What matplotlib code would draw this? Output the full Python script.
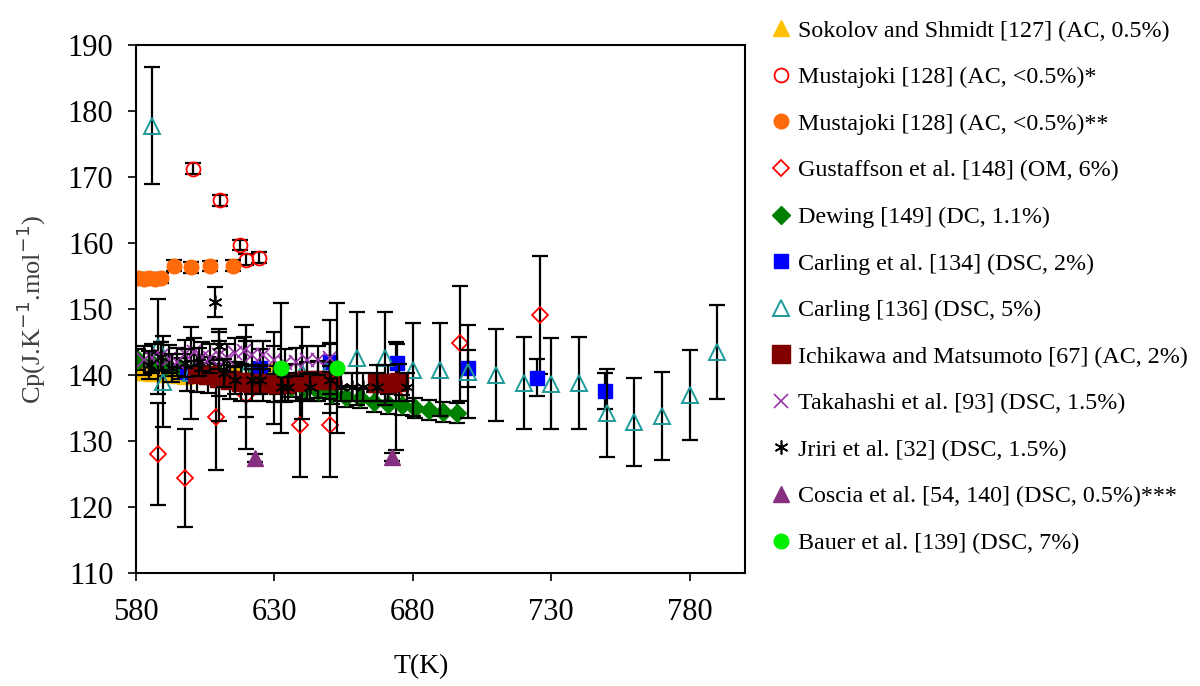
import numpy as np
import matplotlib.pyplot as plt
from matplotlib.lines import Line2D

plt.rcParams['font.family'] = ['Liberation Serif', 'DejaVu Serif']

# Sokolov and Shmidt [127]
sok_t = [580.5, 583, 585.5, 588, 590.5, 593, 595.5, 598, 616, 629]
sok_cp = [140.5, 140.4, 140.3, 140.3, 140.2, 140.1, 140.0, 139.9, 141.2, 140.8]

# Mustajoki [128] *
mus1_t = [600.7, 610.6, 617.5, 620, 624.5]
mus1_cp = [171.3, 166.5, 159.7, 157.5, 157.8]

# Mustajoki [128] **
mus2_t = [581, 583, 585, 587, 589, 594, 600, 607, 615]
mus2_cp = [154.7, 154.6, 154.7, 154.6, 154.7, 156.6, 156.3, 156.5, 156.6]

# Gustaffson et al. [148]
gus_t = [588, 598, 609, 620, 639.5, 650, 674, 697, 726]
gus_cp = [128.0, 124.4, 133.6, 137.0, 132.4, 132.4, 136.8, 144.8, 149.1]

# Dewing [149]
dew_t = [581, 586, 591, 596, 601, 606, 611, 616, 621, 626, 631, 636,
         641, 646, 651, 656, 661, 666, 671, 676, 681, 686, 691, 696]
dew_cp = [142.3, 141.8, 141.4, 141.0, 140.6, 140.2, 139.9, 139.6, 139.3, 139.0, 138.6, 138.2,
          137.9, 137.6, 137.1, 136.7, 136.5, 135.9, 135.6, 135.4, 135.0, 134.7, 134.4, 134.2]

# Carling et al. [134]
c134_t = [598.5, 625, 650, 674.5, 700, 725, 749.5]
c134_cp = [140.4, 141.1, 142.0, 141.8, 141.0, 139.6, 137.6]

# Carling [136]
c136_t = [586, 588, 590, 600, 610, 620, 630, 640, 650, 660, 670, 680,
          690, 700, 710, 720, 730, 740, 750, 760, 770, 780, 790]
c136_cp = [177.8, 144.3, 139.0, 140.3, 140.0, 140.6, 139.5, 140.3, 141.3, 142.5, 142.5, 140.8,
           140.8, 140.5, 140.0, 138.8, 138.7, 138.8, 134.2, 132.9, 133.8, 137.0, 143.5]

# Ichikawa and Matsumoto [67]
ich_t = [602, 606, 610, 614, 618, 622, 626, 630, 634, 638, 642, 646, 650, 667, 671, 675]
ich_cp = [140.2, 140.0, 139.6, 139.2, 138.9, 138.8, 138.8, 138.6, 138.7, 138.9, 139.2, 139.3,
          139.2, 138.8, 138.8, 138.9]

# Takahashi et al. [93]
tak_t = [583, 586, 589, 592, 595, 598, 601, 604, 607, 610, 613, 616, 619, 622,
         626, 630, 634, 638, 642, 646, 650]
tak_cp = [142.2, 142.6, 142.9, 142.4, 142.0, 143.2, 143.5, 142.8, 142.5, 143.0, 142.6, 143.4,
          143.6, 143.0, 143.0, 142.3, 141.8, 142.0, 142.3, 142.2, 142.6]

# Jriri et al. [32]
jri_t = [585, 589, 593, 598, 603, 608.5, 610, 612, 616, 622, 625, 633, 635, 643,
         650, 654, 658, 662, 667, 678]
jri_cp = [141.5, 142.8, 141.0, 141.8, 142.0, 151.1, 144.4, 140.3, 139.2, 139.2, 139.2, 138.2,
          138.2, 138.2, 139.2, 138.2, 138.2, 138.2, 138.2, 138.2]

# Coscia et al. [54, 140]
cos_t = [623, 672.7]
cos_cp = [127.4, 127.6]

# Bauer et al. [139]
bau_t = [632.3, 652.8]
bau_cp = [141.0, 141.0]

series = [
    ("Sokolov and Shmidt [127] (AC, 0.5%)", sok_t, sok_cp, 0.005,
     dict(marker='^', ms=11, mfc='#FFC000', mec='#FFC000')),
    ("Mustajoki [128] (AC, <0.5%)*", mus1_t, mus1_cp, 0.005,
     dict(marker='o', ms=10, mfc='none', mec='#FF0000', mew=1.3)),
    ("Mustajoki [128] (AC, <0.5%)**", mus2_t, mus2_cp, 0.005,
     dict(marker='o', ms=10.5, mfc='#FF6A0A', mec='#FF6A0A')),
    ("Gustaffson et al. [148] (OM, 6%)", gus_t, gus_cp, 0.06,
     dict(marker='D', ms=8.5, mfc='none', mec='#FF0000', mew=1.3)),
    ("Dewing [149] (DC, 1.1%)", dew_t, dew_cp, 0.011,
     dict(marker='D', ms=9, mfc='#008000', mec='#008000')),
    ("Carling et al. [134] (DSC, 2%)", c134_t, c134_cp, 0.02,
     dict(marker='s', ms=10.5, mfc='#0000FF', mec='#0000FF')),
    ("Carling [136] (DSC, 5%)", c136_t, c136_cp, 0.05,
     dict(marker='^', ms=11, mfc='none', mec='#1F9A9A', mew=1.4)),
    ("Ichikawa and Matsumoto [67] (AC, 2%)", ich_t, ich_cp, 0.02,
     dict(marker='s', ms=12.5, mfc='#800000', mec='#800000')),
    ("Takahashi et al. [93] (DSC, 1.5%)", tak_t, tak_cp, 0.015,
     dict(marker='x', ms=9.5, mfc='none', mec='#9933AA', mew=1.2)),
    ("Jriri et al. [32] (DSC, 1.5%)", jri_t, jri_cp, 0.015,
     dict(marker=(6, 2, 0), ms=10, mfc='none', mec='#000000', mew=1.2)),
    ("Coscia et al. [54, 140] (DSC, 0.5%)***", cos_t, cos_cp, 0.005,
     dict(marker='^', ms=11.5, mfc='#862F80', mec='#862F80')),
    ("Bauer et al. [139] (DSC, 7%)", bau_t, bau_cp, 0.07,
     dict(marker='o', ms=10.5, mfc='#00EE00', mec='#00EE00')),
]

fig = plt.figure(figsize=(12, 6.86), dpi=100)
ax = fig.add_axes([0.113, 0.165, 0.508, 0.769])

handles = []
for i, (label, t, cp, pct, style) in enumerate(series):
    t = np.array(t)
    cp = np.array(cp)
    ax.errorbar(t, cp, yerr=cp * pct, fmt='none', ecolor='black', elinewidth=1.6,
                capsize=5.5, capthick=1.6, zorder=2 + i * 0.1)
    ax.plot(t, cp, linestyle='none', zorder=2.05 + i * 0.1, **style)
    handles.append(Line2D([], [], linestyle='none', label=label, **style))

ax.set_xlim(580, 800)
ax.set_ylim(110, 190)
ax.set_xticks([580, 630, 680, 730, 780])
ax.set_yticks(np.arange(110, 191, 10))
ax.tick_params(labelsize=22, length=6, width=1.2, direction='out')
ax.tick_params(axis='x', pad=12)
ax.tick_params(axis='y', pad=10)
for s in ax.spines.values():
    s.set_linewidth(1.5)

ax.set_xlabel("T(K)", fontsize=20)
ax.xaxis.set_label_coords(0.468, -0.155)
ax.set_ylabel("Cp(J.K$^{-1}$.mol$^{-1}$)", fontsize=19, color='#404040')
ax.yaxis.set_label_coords(-0.143, 0.5)

fig.legend(handles=handles, loc='upper left', bbox_to_anchor=(0.635, 0.985),
           frameon=False, fontsize=17.3, handlelength=0.8, handletextpad=0.3,
           labelspacing=1.03, borderaxespad=0)

fig.savefig("out.png", dpi=100)
